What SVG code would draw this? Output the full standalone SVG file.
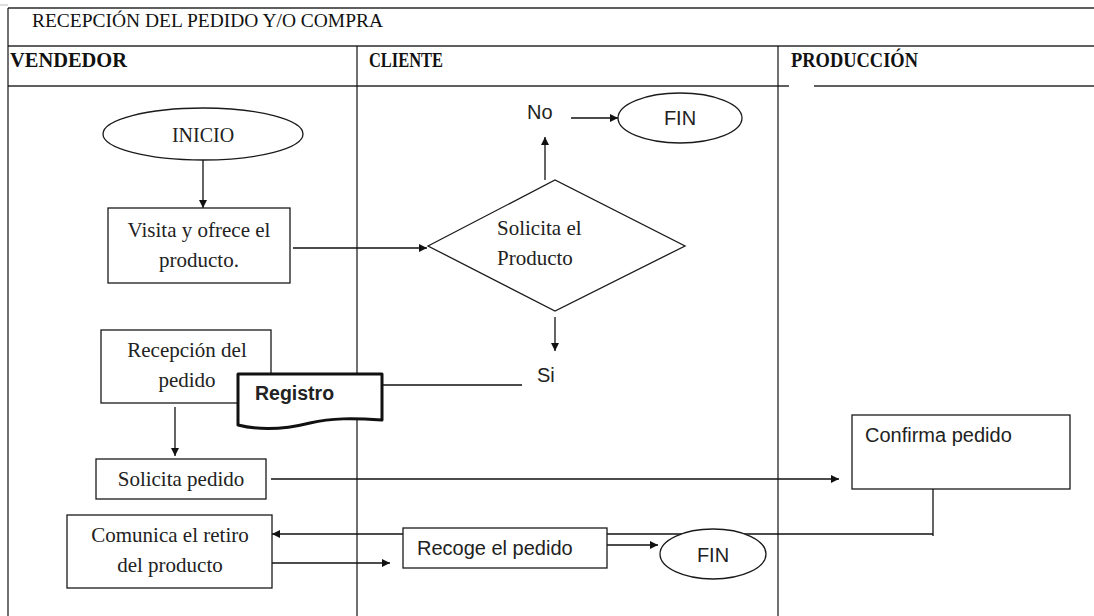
<svg xmlns="http://www.w3.org/2000/svg" width="1094" height="616" viewBox="0 0 1094 616">
  <style>
    .grid { stroke: #2a2a2a; stroke-width: 1.6; fill: none; }
    .lane { stroke: #111; stroke-width: 1.2; fill: none; }
    .box { fill: #fff; stroke: #1a1a1a; stroke-width: 1.3; }
    .doc { fill: #fff; stroke: #111; stroke-width: 3; stroke-linejoin: round; }
    .link { stroke: #111; stroke-width: 1.3; fill: none; }
    .serif { font-family: "Liberation Serif", "Times New Roman", serif; fill: #222; }
    .sans { font-family: "Liberation Sans", Arial, sans-serif; fill: #222; }
    .head { font-family: "Liberation Serif", "Times New Roman", serif; fill: #111; font-size: 19px; }
    .col { font-size: 21px; font-weight: bold; }
    .body { font-size: 21px; }
    .lbl { font-size: 20px; }
  </style>
  <defs>
    <marker id="arrow" viewBox="0 0 10 10" refX="10" refY="5" markerWidth="9" markerHeight="8" markerUnits="userSpaceOnUse" orient="auto">
      <path d="M0,0 L10,5 L0,10 Z" fill="#111"/>
    </marker>
  </defs>

  <rect width="1094" height="616" fill="#fff"/>

  <!-- swimlane table -->
  <g id="table">
    <line x1="0" y1="5" x2="8" y2="5" stroke="#bbb" stroke-width="1"/>
    <line class="grid" x1="8" y1="8" x2="1094" y2="8"/>
    <line class="grid" x1="8" y1="46" x2="1094" y2="46"/>
    <line class="grid" x1="8" y1="86" x2="1094" y2="86"/>
    <line class="lane" x1="8" y1="8" x2="8" y2="616"/>
    <line class="lane" x1="357" y1="46" x2="357" y2="616"/>
    <line class="lane" x1="778" y1="46" x2="778" y2="616"/>
    <line x1="789" y1="86" x2="814" y2="86" stroke="#fff" stroke-width="2"/>
    <text class="head" x="32" y="27" textLength="351" lengthAdjust="spacingAndGlyphs">RECEPCIÓN DEL PEDIDO Y/O COMPRA</text>
    <text class="head col" x="10" y="67" textLength="117" lengthAdjust="spacingAndGlyphs">VENDEDOR</text>
    <text class="head col" x="369" y="67" textLength="74" lengthAdjust="spacingAndGlyphs">CLIENTE</text>
    <text class="head col" x="791" y="67" textLength="127" lengthAdjust="spacingAndGlyphs">PRODUCCIÓN</text>
  </g>

  <!-- connectors -->
  <g id="connectors">
    <line class="link" x1="203" y1="160" x2="203" y2="208" marker-end="url(#arrow)"/>
    <line class="link" x1="293" y1="248" x2="427" y2="248" marker-end="url(#arrow)"/>
    <line class="link" x1="545" y1="180" x2="545" y2="137" marker-end="url(#arrow)"/>
    <line class="link" x1="571" y1="118" x2="618" y2="118" marker-end="url(#arrow)"/>
    <line class="link" x1="555" y1="317" x2="555" y2="351" marker-end="url(#arrow)"/>
    <line class="link" x1="522" y1="385" x2="382" y2="385"/>
    <line class="link" x1="175" y1="407" x2="175" y2="456" marker-end="url(#arrow)"/>
    <line class="link" x1="271" y1="479" x2="839" y2="479" marker-end="url(#arrow)"/>
    <polyline class="link" points="933,489 933,536"/>
    <line class="link" x1="933" y1="534" x2="272" y2="534" marker-end="url(#arrow)"/>
    <line class="link" x1="272" y1="563" x2="390" y2="563" marker-end="url(#arrow)"/>
    <line class="link" x1="607" y1="545" x2="658" y2="545" marker-end="url(#arrow)"/>
  </g>

  <!-- nodes -->
  <g id="inicio">
    <ellipse class="box" cx="203" cy="134" rx="100" ry="26"/>
    <text class="serif" x="203" y="142" font-size="20" text-anchor="middle">INICIO</text>
  </g>

  <g id="visita">
    <rect class="box" x="108" y="208" width="182" height="75"/>
    <text class="serif body" x="199" y="237" text-anchor="middle">Visita y ofrece el</text>
    <text class="serif body" x="199" y="267" text-anchor="middle">producto.</text>
  </g>

  <g id="solicita-producto">
    <polygon class="box" points="428,246 555,180 685,246 555,311"/>
    <text class="serif body" x="497" y="235">Solicita el</text>
    <text class="serif body" x="497" y="265">Producto</text>
  </g>

  <g id="label-no">
    <text class="sans lbl" x="527" y="119">No</text>
  </g>

  <g id="fin-no">
    <ellipse class="box" cx="680" cy="118" rx="62" ry="25"/>
    <text class="sans lbl" x="680" y="125" text-anchor="middle">FIN</text>
  </g>

  <g id="label-si">
    <text class="sans lbl" x="537" y="382">Si</text>
  </g>

  <g id="recepcion">
    <rect class="box" x="101" y="330" width="170" height="73"/>
    <text class="serif body" x="187" y="357" text-anchor="middle">Recepción del</text>
    <text class="serif body" x="187" y="387" text-anchor="middle">pedido</text>
  </g>

  <g id="registro">
    <path class="doc" d="M238,374 H382 V420 C352,418 332,418 310,423 C286,429 262,431 238,425 Z"/>
    <text class="sans" x="255" y="400" font-size="19.5" font-weight="bold" fill="#111">Registro</text>
  </g>

  <g id="solicita-pedido">
    <rect class="box" x="96" y="459" width="170" height="40"/>
    <text class="serif body" x="181" y="486" text-anchor="middle">Solicita pedido</text>
  </g>

  <g id="confirma">
    <rect class="box" x="852" y="415" width="218" height="74"/>
    <text class="sans lbl" x="865" y="442">Confirma pedido</text>
  </g>

  <g id="comunica">
    <rect class="box" x="67" y="515" width="205" height="73"/>
    <text class="serif body" x="170" y="542" text-anchor="middle">Comunica el retiro</text>
    <text class="serif body" x="170" y="572" text-anchor="middle">del producto</text>
  </g>

  <g id="recoge">
    <rect class="box" x="403" y="528" width="204" height="40"/>
    <text class="sans lbl" x="417" y="555">Recoge el pedido</text>
  </g>

  <g id="fin-recoge">
    <ellipse class="box" cx="713" cy="554" rx="53" ry="25"/>
    <text class="sans lbl" x="713" y="562" text-anchor="middle">FIN</text>
  </g>
</svg>
